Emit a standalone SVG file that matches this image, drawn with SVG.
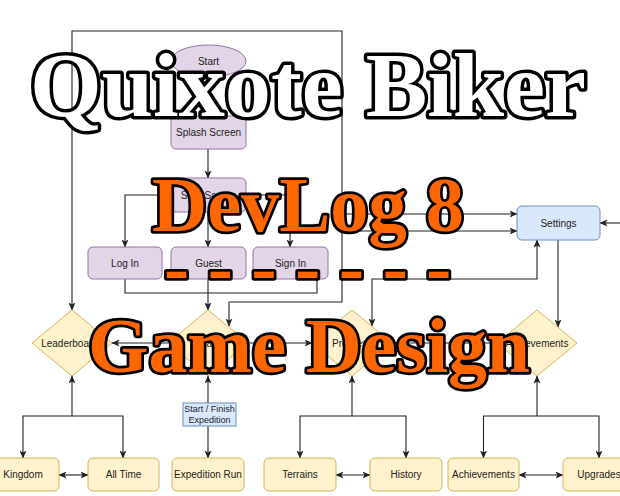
<svg xmlns="http://www.w3.org/2000/svg" width="620" height="496" viewBox="0 0 620 496">
<style>
.c{fill:none;stroke:#222;stroke-width:1.1}
.p{fill:#e1d5e7;stroke:#9673a6;stroke-width:1}
.y{fill:#fff2cc;stroke:#d6b656;stroke-width:1}
.b{fill:#dae8fc;stroke:#6c8ebf;stroke-width:1}
.t{font-family:"Liberation Sans",Arial,sans-serif;font-size:10px;fill:#222;text-anchor:middle}
.big{font-family:"Liberation Serif","Times New Roman",serif;font-weight:bold;paint-order:stroke}
.q{fill:#fff;stroke:#000;stroke-width:7;stroke-linejoin:round}
.o{fill:#ff6600;stroke:#000;stroke-width:5.5;stroke-linejoin:round}
</style>
<defs>
<marker id="a" viewBox="0 0 8 7" refX="7.5" refY="3.5" markerWidth="8" markerHeight="7" markerUnits="userSpaceOnUse" orient="auto-start-reverse">
<path d="M0,0 L8,3.5 L0,7 L2,3.5 z" fill="#222"/>
</marker>
</defs>
<rect width="620" height="496" fill="#fff"/>
<g id="connectors">
<path class="c" d="M208,77 V116" marker-end="url(#a)"/>
<path class="c" d="M208,149 V178" marker-end="url(#a)"/>
<path class="c" d="M171,195 H125 V247" marker-end="url(#a)"/>
<path class="c" d="M208,212 V247" marker-end="url(#a)"/>
<path class="c" d="M246,195 H290 V247" marker-end="url(#a)"/>
<path class="c" d="M125,279 V293 H208"/>
<path class="c" d="M317,279 V293 H208"/>
<path class="c" d="M208,279 V310" marker-end="url(#a)"/>
<path class="c" d="M229,326 V302 H342 V31 H72 V310" marker-start="url(#a)" marker-end="url(#a)"/>
<path class="c" d="M168,343 H112" marker-end="url(#a)"/>
<path class="c" d="M248,343 H312" marker-end="url(#a)"/>
<path class="c" d="M392,343 H497"/>
<path class="c" d="M537,240 V279 H372 V326" marker-start="url(#a)" marker-end="url(#a)"/>
<path class="c" d="M558,240 V327" marker-end="url(#a)"/>
<path class="c" d="M620,223 H600" marker-end="url(#a)"/>
<path class="c" d="M342,214 H517" marker-end="url(#a)"/>
<path class="c" d="M342,231 H517" marker-end="url(#a)"/>
<path class="c" d="M72,376 V416 H23 V458" marker-start="url(#a)" marker-end="url(#a)"/>
<path class="c" d="M72,416 H123 V458" marker-end="url(#a)"/>
<path class="c" d="M59,475 H88" marker-start="url(#a)" marker-end="url(#a)"/>
<path class="c" d="M208,376 V458" marker-start="url(#a)" marker-end="url(#a)"/>
<path class="c" d="M352,376 V416 H300 V458" marker-start="url(#a)" marker-end="url(#a)"/>
<path class="c" d="M352,416 H406 V458" marker-end="url(#a)"/>
<path class="c" d="M336,475 H370" marker-start="url(#a)" marker-end="url(#a)"/>
<path class="c" d="M537,376 V416 H483.5 V458" marker-start="url(#a)" marker-end="url(#a)"/>
<path class="c" d="M537,416 H599 V458" marker-end="url(#a)"/>
<path class="c" d="M519,475 H563" marker-start="url(#a)" marker-end="url(#a)"/>
</g>
<g id="label-expedition">
<rect class="b" x="183" y="403" width="53" height="23"/>
<text class="t" style="font-size:9px" x="209.5" y="411.5">Start / Finish</text>
<text class="t" style="font-size:9px" x="209.5" y="423">Expedition</text>
</g>
<g id="start"><ellipse class="p" cx="208.5" cy="61" rx="37.5" ry="16"/><text class="t" x="208.5" y="64.5">Start</text></g>
<g id="splash"><rect class="p" x="171" y="116" width="75" height="33" rx="5"/><text class="t" x="208.5" y="136">Splash Screen</text></g>
<g id="startscreen"><rect class="p" x="171" y="178" width="75" height="34" rx="5"/><text class="t" x="208.5" y="198.5">Start Screen</text></g>
<g id="login"><rect class="p" x="88" y="247" width="74" height="32" rx="5"/><text class="t" x="125" y="266.5">Log In</text></g>
<g id="guest"><rect class="p" x="171" y="247" width="75" height="32" rx="5"/><text class="t" x="208.5" y="266.5">Guest</text></g>
<g id="signin"><rect class="p" x="253" y="247" width="75" height="32" rx="5"/><text class="t" x="290.5" y="266.5">Sign In</text></g>
<g id="settings"><rect class="b" x="517" y="206" width="83" height="34" rx="5"/><text class="t" x="558.5" y="226.5">Settings</text></g>
<g id="leaderboards"><path class="y" d="M72,310 L112,343 L72,376 L32,343 Z"/><text class="t" x="72" y="346.5">Leaderboards</text></g>
<g id="map"><path class="y" d="M208,310 L248,343 L208,376 L168,343 Z"/><text class="t" x="208" y="346.5">Map</text></g>
<g id="progress"><path class="y" d="M352,310 L392,343 L352,376 L312,343 Z"/><text class="t" x="352" y="346.5">Progress</text></g>
<g id="achievements-menu"><path class="y" d="M537,310 L577,343 L537,376 L497,343 Z"/><text class="t" x="537" y="346.5">Achievements</text></g>
<g id="kingdom"><rect class="y" x="-13" y="458" width="72" height="33" rx="5"/><text class="t" x="23" y="478">Kingdom</text></g>
<g id="alltime"><rect class="y" x="88" y="458" width="71" height="33" rx="5"/><text class="t" x="123.5" y="478">All Time</text></g>
<g id="expeditionrun"><rect class="y" x="172" y="458" width="72" height="33" rx="5"/><text class="t" x="208" y="478">Expedition Run</text></g>
<g id="terrains"><rect class="y" x="264" y="458" width="72" height="33" rx="5"/><text class="t" x="300" y="478">Terrains</text></g>
<g id="history"><rect class="y" x="370" y="458" width="72" height="33" rx="5"/><text class="t" x="406" y="478">History</text></g>
<g id="achievements"><rect class="y" x="448" y="458" width="71" height="33" rx="5"/><text class="t" x="483.5" y="478">Achievements</text></g>
<g id="upgrades"><rect class="y" x="563" y="458" width="72" height="33" rx="5"/><text class="t" x="599" y="478">Upgrades</text></g>
<g id="titles">
<text class="big q" x="30" y="116" font-size="92" textLength="556" lengthAdjust="spacingAndGlyphs">Quixote Biker</text>
<text class="big o" x="152" y="231" font-size="78" textLength="312" lengthAdjust="spacingAndGlyphs">DevLog 8</text>
<text class="big o" x="164" y="292" font-size="75">- - - - - - -</text>
<text class="big o" x="88" y="372" font-size="78" textLength="442" lengthAdjust="spacingAndGlyphs">Game Design</text>
</g>
</svg>
